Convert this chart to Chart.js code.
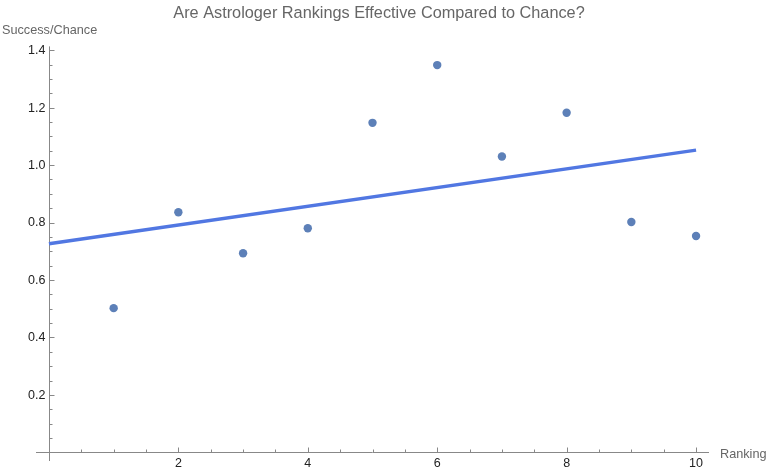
<!DOCTYPE html>
<html>
<head>
<meta charset="utf-8">
<script src="https://cdn.jsdelivr.net/npm/chart.js@4"></script>
<style>
  html, body { margin: 0; padding: 0; background: #fff; }
  #wrap { width: 768px; height: 472px; }
</style>
</head>
<body>
<div id="wrap"><canvas id="chart"></canvas></div>
<script>
// data
const rankings = [1, 2, 3, 4, 5, 6, 7, 8, 9, 10];
const successRatio = [0.502, 0.836, 0.693, 0.780, 1.147, 1.348, 1.030, 1.182, 0.802, 0.753];
const fitX = [0, 10];
const fitY = [0.726, 1.052];

const xTicks = [2, 4, 6, 8, 10];
const yTicks = [0.2, 0.4, 0.6, 0.8, 1.0, 1.2, 1.4];
const xMinor = [0.5, 1, 1.5, 2.5, 3, 3.5, 4.5, 5, 5.5, 6.5, 7, 7.5, 8.5, 9, 9.5];
const yMinor = [0.05, 0.1, 0.15, 0.25, 0.3, 0.35, 0.45, 0.5, 0.55, 0.65, 0.7, 0.75,
                0.85, 0.9, 0.95, 1.05, 1.1, 1.15, 1.25, 1.3, 1.35];

const titleText = 'Are Astrologer Rankings Effective Compared to Chance?';
const axisColor = '#888';
const labelColor = '#666';
const tickColor = '#222';
const fontName = '"Liberation Sans", Arial, sans-serif';

// Mathematica-style axes: lines crossing at origin, ticks pointing inward
const axesPlugin = {
    id: 'axesPlugin',
    beforeDatasetsDraw(chart) {
        const { ctx, chartArea, scales } = chart;
        const x0 = Math.round(scales.x.getPixelForValue(0)) + 0.5;
        const y0 = Math.round(scales.y.getPixelForValue(0)) + 0.5;
        ctx.save();
        ctx.strokeStyle = axisColor;
        ctx.lineWidth = 1;
        ctx.beginPath();
        ctx.moveTo(chartArea.left, y0);
        ctx.lineTo(chartArea.right, y0);
        ctx.moveTo(x0, chartArea.top);
        ctx.lineTo(x0, chartArea.bottom);
        xTicks.forEach(v => {
            const px = Math.round(scales.x.getPixelForValue(v)) + 0.5;
            ctx.moveTo(px, y0); ctx.lineTo(px, y0 - 5);
        });
        xMinor.forEach(v => {
            const px = Math.round(scales.x.getPixelForValue(v)) + 0.5;
            ctx.moveTo(px, y0); ctx.lineTo(px, y0 - 3);
        });
        yTicks.forEach(v => {
            const py = Math.round(scales.y.getPixelForValue(v)) + 0.5;
            ctx.moveTo(x0, py); ctx.lineTo(x0 + 5, py);
        });
        yMinor.forEach(v => {
            const py = Math.round(scales.y.getPixelForValue(v)) + 0.5;
            ctx.moveTo(x0, py); ctx.lineTo(x0 + 3, py);
        });
        ctx.stroke();

        // tick labels
        ctx.fillStyle = tickColor;
        ctx.font = '12.5px ' + fontName;
        ctx.textBaseline = 'middle';
        ctx.textAlign = 'center';
        xTicks.forEach(v => {
            ctx.fillText(String(v), scales.x.getPixelForValue(v), y0 + 11);
        });
        ctx.textAlign = 'right';
        yTicks.forEach(v => {
            ctx.fillText(v.toFixed(1), x0 - 4, scales.y.getPixelForValue(v) + 0.5);
        });

        // axis labels
        ctx.fillStyle = labelColor;
        ctx.font = '12.7px ' + fontName;
        ctx.textBaseline = 'alphabetic';
        ctx.textAlign = 'left';
        ctx.fillText('Success/Chance', 2, chartArea.top - 12);
        ctx.fillText('Ranking', chartArea.right + 11, y0 + 5);

        // title
        ctx.font = '16.3px ' + fontName;
        ctx.textAlign = 'center';
        ctx.fillText(titleText, 379, 18);
        ctx.restore();
    }
};

const ctx = document.getElementById('chart').getContext('2d');
new Chart(ctx, {
    type: 'scatter',
    data: {
        datasets: [
            {
                label: 'fit',
                type: 'line',
                data: fitX.map((x, i) => ({ x: x, y: fitY[i] })),
                borderColor: '#5177e2',
                borderWidth: 3.5,
                pointRadius: 0,
                fill: false,
                order: 2
            },
            {
                label: 'Success/Chance',
                data: rankings.map((x, i) => ({ x: x, y: successRatio[i] })),
                backgroundColor: '#5d80b8',
                borderColor: '#5d80b8',
                pointRadius: 4.2,
                pointBorderWidth: 0,
                order: 1
            }
        ]
    },
    plugins: [axesPlugin],
    options: {
        responsive: true,
        maintainAspectRatio: false,
        animation: false,
        layout: { padding: { left: 36, right: 59, top: 46.4, bottom: 11 } },
        plugins: {
            legend: { display: false },
            tooltip: { enabled: false },
            title: { display: false }
        },
        scales: {
            x: {
                type: 'linear',
                min: -0.2,
                max: 10.2,
                position: { y: 0 },
                grid: { display: false, drawTicks: false },
                border: { display: false },
                ticks: { display: false }
            },
            y: {
                type: 'linear',
                min: -0.03,
                max: 1.413,
                position: { x: 0 },
                grid: { display: false, drawTicks: false },
                border: { display: false },
                ticks: { display: false }
            }
        }
    }
});
</script>
</body>
</html>
